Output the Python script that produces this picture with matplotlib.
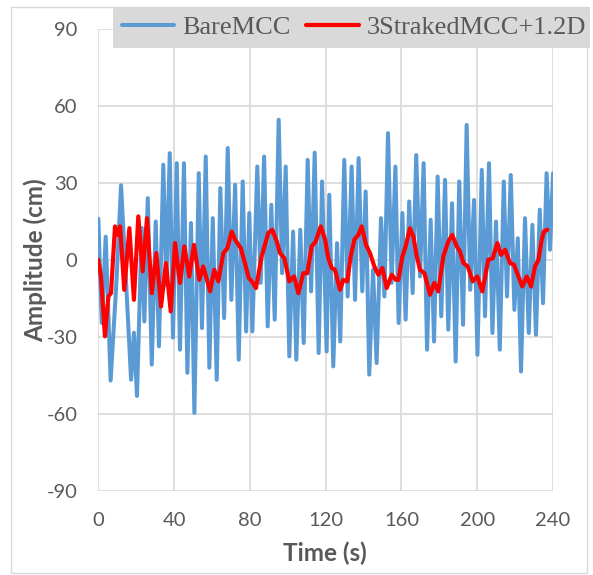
import numpy as np
import matplotlib
matplotlib.use('Agg')
import matplotlib.pyplot as plt
from matplotlib.patches import Rectangle

plt.rcParams['axes.unicode_minus'] = False

# values (time in s, amplitude in cm)
bare_t = [0, 1.8, 3.9, 6.5, 9.6, 12, 17.3, 18.8, 20.4, 22.9, 24.3, 26.1, 28.2, 30.3, 32, 34.3,
          35.9, 37.7, 39.4, 41.4, 43.1, 45.2, 47, 48.9, 50.7, 53, 54.7, 56.7, 58.6, 60.4, 62.5,
          64.4, 66.4, 68.3, 70.2, 72.2, 74.1, 76.2, 78, 79.7, 81.3, 83.9, 85.7, 87.5, 89.4, 91.3,
          93.1, 95.2, 97, 98.9, 100.8, 102.8, 104.5, 106.6, 108.4, 110.5, 112.3, 114.2, 116.3,
          118.1, 120.5, 121.9, 124, 126, 127.7, 129.8, 131.6, 133.7, 135.5, 137.4, 139.3, 141.1,
          143, 145, 146.9, 149.2, 151, 152.9, 154.8, 156.8, 158.5, 160.5, 162.2, 164.1, 165.9,
          167.8, 169.8, 171.7, 173.5, 175.4, 177.2, 179.1, 181, 183, 184.7, 186.7, 188.6, 190.5,
          192.5, 194.4, 196.3, 198.3, 200.1, 202.4, 204.1, 206.2, 208, 209.9, 211.9, 214, 215.7,
          217.7, 219.6, 221.4, 223.1, 225.2, 227.2, 229.1, 231, 233, 234.7, 236.6, 238.4, 240]
bare_v = [16, -24.6, 9, -47, -8, 29, -46.7, -28.4, -53, 12.4, -24, 24, -40.8, 14.9, -33.7, 37,
          -10, 41.5, -30.3, 37.6, -35, 37.6, -44, 14.3, -59.6, 33.7, -26.6, 40.2, -42, 16.2, -46.7,
          27.9, -22.7, 43.5, -15.6, 29.2, -38.9, 30.5, -27.9, 18.2, -27.9, 36.3, -9, 40.2, -25.9, 21.4,
          -23.3, 54.5, -5.2, 36.3, -37.6, 11, -38.9, 11.7, -32.4, 38.9, -12.3, 41.7, -36.3,
          30.5, -35.7, 25.3, -41.5, 6.5, -31.8, 38.9, -14.3, 36.3, -15.6, 39.6, -12.3, 26.6,
          -44.7, -3.9, -40.2, 16.2, -14.3, 49.3, -9, 36.3, -24.6, 18.2, -23.3, 22.7, -13,
          40.8, -6.5, 37.6, -35, 15.6, -31.8, 32.4, -22, 31.1, -27.2, 22, -39.6, 30.5,
          -25.3, 52.5, -11.7, 23.3, -37, 35, -22, 37.6, -28.5, 14.9, -35, 30.5, -14.3,
          33, -19.5, 8.4, -43.5, 16.2, -28.5, 13.6, -29.2, 19.5, -16.9, 33.7, 3.9, 33.7]

straked_t = [0, 1.4, 3.5, 5.3, 6.7, 8.8, 10.2, 11.5, 13.7, 16.4, 18.8, 21.1, 23.4, 25.7, 28.2,
             30.6, 33.1, 35.7, 38.2, 40.5, 43.1, 45.4, 48, 50.5, 53.3, 55.4, 59, 61.2, 63.3, 66,
             68.1, 70.4, 72.2, 75.2, 77.4, 79.4, 81, 83.2, 86.2, 89.7, 91.8, 94.2, 95.9, 98.2,
             100.8, 103.3, 105.6, 108.2, 110.3, 112.6, 114.7, 117.4, 119.7, 121.4, 123.2, 124.9,
             127.6, 129.3, 131.4, 133.2, 135.1, 137.2, 139, 141.3, 143.4, 145.7, 147.8, 149.9,
             152.2, 154.9, 157, 158.4, 160.5, 162.2, 164.5, 166.3, 168.1, 169.8, 172.1, 175.1,
             177.3, 179.4, 182.1, 184.7, 186.8, 189.2, 190.9, 192.7, 195, 197.6, 200, 202.7,
             205.8, 208.2, 210.6, 212.5, 214.7, 217.3, 219.4, 221.7, 223.8, 226.1, 228.4, 230.5,
             232.3, 234, 235.2, 237]
straked_v = [0, -6.5, -29.8, -14.3, -13, 13, 9.7, 13, -11.7, 12.3, -15.6, 16.9, -4.5, 16.2, -13,
             2.6, -18.2, -1.3, -20.1, 6.5, -9, 5.2, -6.5, 5.8, -7.8, -2.6, -12.3, -3.9, -8.4, 2.6,
             4.5, 11, 7.8, 4.5, -1.3, -7.1, -8.4, -11, 1.3, 10.4, 11.7, 7.1, 2.6, 0.6,
             -8.4, -6.5, -13, -5.2, -5.2, 5.2, 7.1, 13, 7.8, 0.6, -3.2, -3.9,
             -11.7, -7.8, -8.4, 1.3, 7.8, 9.7, 13, 5.8, 2.6, -2.6, -5.8, -3.2,
             -11, -5.8, -7.8, -7.8, 1.3, 5.2, 12.3, 9, 1.3, -3.9, -5.2, -13.6,
             -9, -12.3, 1.3, 7.1, 9.7, 5.2, 3.2, -1.3, -2.6, -8.4, -6.5, -12.3,
             0, 0.6, 6.5, 1.9, 3.9, -1.3, -1.9, -6.5, -10.4, -6.5, -10.4, -2.6,
             0, 7.8, 11, 11.7]

x_ticks = [0, 40, 80, 120, 160, 200, 240]
y_ticks = [-90, -60, -30, 0, 30, 60, 90]

grey = '#595959'
grid_c = '#d9d9d9'

fig = plt.figure(figsize=(5.93, 5.75), dpi=100)
ax = fig.add_axes([0.1658, 0.1461, 0.7668, 0.8042])

l1, = ax.plot(bare_t, bare_v, color='#5b9bd5', lw=2.9, label='BareMCC',
              solid_joinstyle='round', solid_capstyle='round')
l2, = ax.plot(straked_t, straked_v, color='#ff0000', lw=3.0, label='3StrakedMCC+1.2D',
              solid_joinstyle='round', solid_capstyle='round')

ax.set_xlim(0, 240)
ax.set_ylim(-90, 90)
ax.set_xticks(x_ticks)
ax.set_yticks(y_ticks)
ax.grid(True, color=grid_c, lw=1.2)
ax.set_axisbelow(True)
for s in ax.spines.values():
    s.set_visible(False)
ax.tick_params(length=0, pad=15, labelsize=14.5, labelcolor=grey)
for lab in ax.get_xticklabels() + ax.get_yticklabels():
    lab.set_family('Lato')

fig.text(0.548, 1 - 553 / 575, 'Time (s)', ha='center', va='center', fontsize=17.5,
         fontweight='bold', color=grey, family='Lato')
fig.text(35 / 593, 1 - 260 / 575, 'Amplitude (cm)', ha='center', va='center', rotation=90,
         fontsize=17.5, fontweight='bold', color=grey, family='Lato')

# outer chart border
fig.patches.append(Rectangle((11 / 593, 2 / 575), 576 / 593, 566 / 575, transform=fig.transFigure,
                             fill=False, edgecolor=grid_c, lw=1.0))
# legend background
fig.patches.append(Rectangle((113 / 593, 1 - 48 / 575), 477 / 593, 41 / 575,
                             transform=fig.transFigure, facecolor=grid_c, edgecolor='none',
                             zorder=5))
leg = fig.legend(handles=[l1, l2], loc='center', bbox_to_anchor=(354 / 593, 1 - 27.5 / 575),
                 ncol=2, frameon=False, handlelength=2.0, handletextpad=0.3, columnspacing=0.6,
                 prop={'family': 'Liberation Serif', 'size': 19})
leg.set_zorder(6)
for t in leg.get_texts():
    t.set_color(grey)

fig.savefig('out.png', dpi=100)
